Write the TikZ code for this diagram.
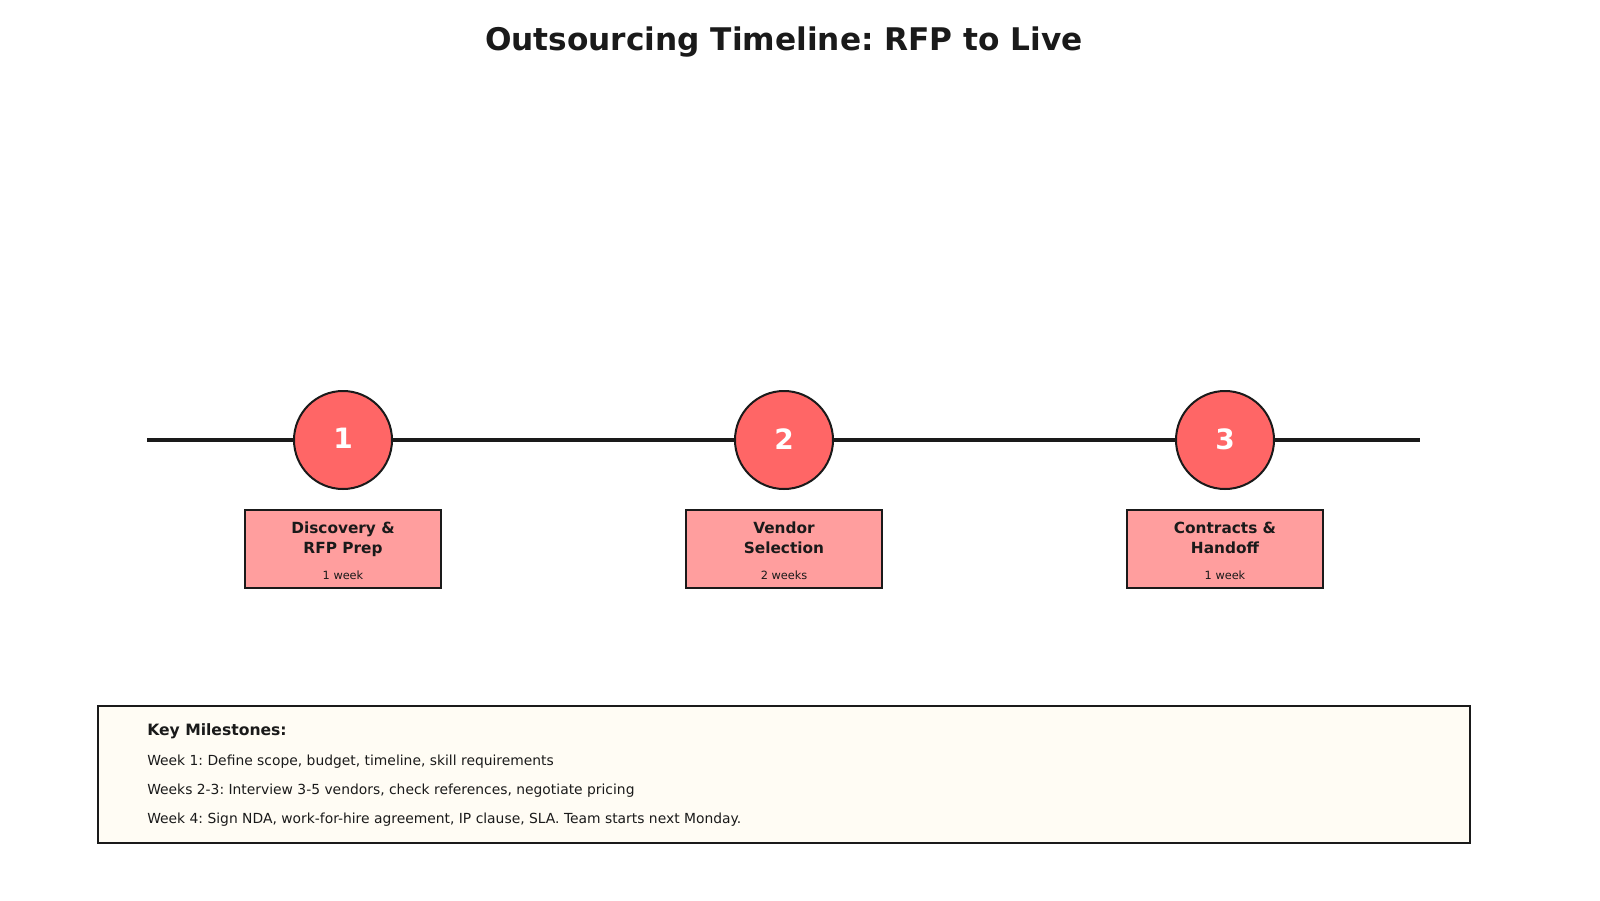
\documentclass[tikz,border=0pt]{standalone}
\usepackage{fontspec}
\setmainfont{DejaVu Sans}
\frenchspacing
\definecolor{ink}{HTML}{1A1A1A}
\definecolor{circfill}{HTML}{FF6666}
\definecolor{boxfill}{HTML}{FF9E9E}
\definecolor{notefill}{HTML}{FFFCF4}
\tikzset{
  stepcirc/.style={circle, draw=ink, line width=1.5pt, fill=circfill, minimum size=73.5pt, inner sep=0pt,
    text=white, font=\bfseries\fontsize{21}{25}\selectfont},
  stepbox/.style={rectangle, draw=ink, line width=1.5pt, fill=boxfill, minimum width=147pt, minimum height=58.5pt,
    inner sep=0pt, align=center, text=ink},
  tline/.style={draw=ink, line width=2.3pt},
  notetext/.style={anchor=west, inner sep=0pt, text=ink, font=\fontsize{10.4}{12}\selectfont},
}
\begin{document}
\begin{tikzpicture}[x=0.75pt,y=-0.75pt]
\useasboundingbox (0,0) rectangle (1600,900);
\fill[white] (0,0) rectangle (1600,900);
\node[text=ink, font=\bfseries\fontsize{23.4}{28}\selectfont] (title) at (784,42) {Outsourcing Timeline: RFP to Live};

\coordinate (ls) at (147,440);
\coordinate (le) at (1420,440);
\draw[tline] (ls) -- (le);

\node[stepcirc] (c1) at (343,440) {\raisebox{2pt}{1}};
\node[stepcirc] (c2) at (784,440) {\raisebox{2pt}{2}};
\node[stepcirc] (c3) at (1225,440) {\raisebox{2pt}{3}};

\node[stepbox] (b1) at (343,549) {};
\node[stepbox] (b2) at (784,549) {};
\node[stepbox] (b3) at (1225,549) {};

\foreach \b/\t/\d in {b1/{Discovery \&\\RFP Prep}/{1 week}, b2/{Vendor\\Selection}/{2 weeks}, b3/{Contracts \&\\Handoff}/{1 week}}{
  \node[align=center, text=ink, inner sep=0pt, font=\bfseries\fontsize{11.5}{15}\selectfont, anchor=north] at ([yshift=-9.75pt]\b.north) {\t};
  \node[text=ink, inner sep=0pt, font=\fontsize{8.5}{10}\selectfont, anchor=center] at ([yshift=10.5pt]\b.south) {\d};
}

\node[draw=ink, line width=1.5pt, fill=notefill, minimum width=1029pt, minimum height=102.75pt, inner sep=0pt] (notes) at (784,774.5) {};
\node[notetext, font=\bfseries\fontsize{11.7}{14}\selectfont] (k0) at (147,731) {Key Milestones:};
\node[notetext] (k1) at (147,762) {Week 1: Define scope, budget, timeline, skill requirements};
\node[notetext] (k2) at (147,791) {Weeks 2-3: Interview 3-5 vendors, check references, negotiate pricing};
\node[notetext] (k3) at (147,820) {Week 4: Sign NDA, work-for-hire agreement, IP clause, SLA. Team starts next Monday.};
\end{tikzpicture}
\end{document}
